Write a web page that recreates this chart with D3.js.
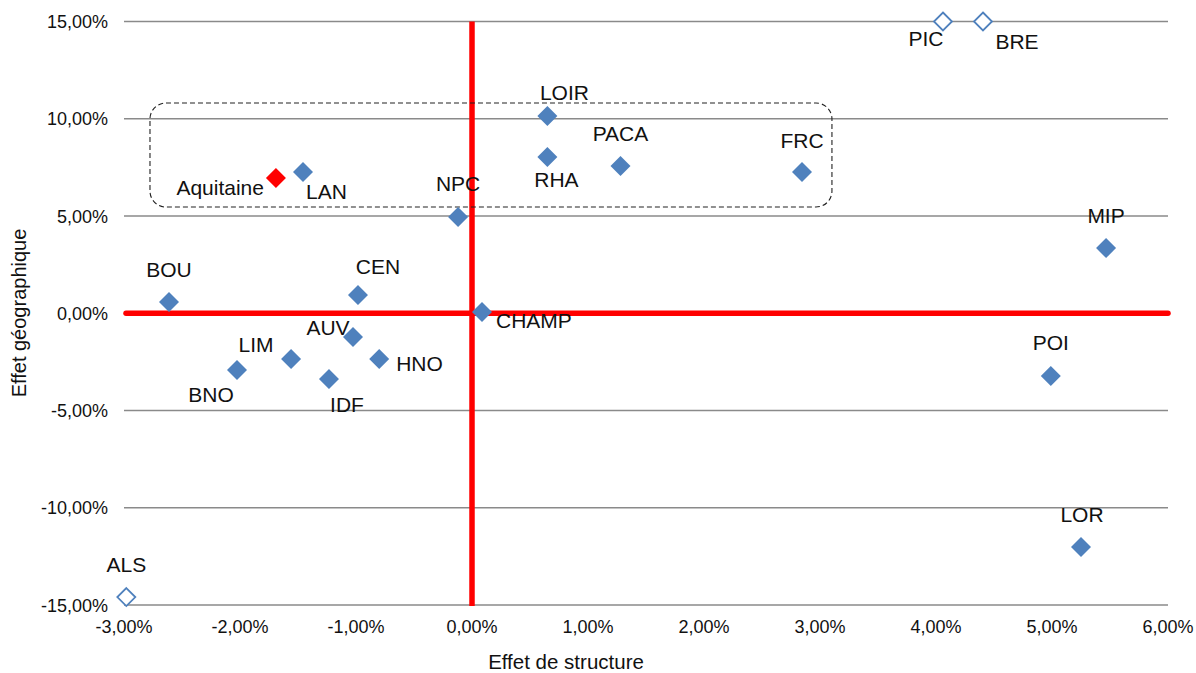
<!DOCTYPE html>
<html><head><meta charset="utf-8">
<script src="https://cdn.jsdelivr.net/npm/d3@7"></script>
<style>
html,body{margin:0;padding:0;background:#fff;}
svg{display:block;font-family:"Liberation Sans",Arial,sans-serif;}
</style></head>
<body><svg id="c" width="1196" height="673"></svg>
<script>
// ---- data ----
const regions = ["LOIR","RHA","PACA","FRC","Aquitaine","LAN","NPC","PIC","BRE","BOU","CEN","CHAMP","AUV","LIM","HNO","BNO","IDF","ALS","MIP","POI","LOR"];
const effetStructure   = [0.65, 0.65, 1.28, 2.845, -1.69, -1.457, -0.12, 4.06, 4.405, -2.612, -0.983, 0.086, -1.026, -1.56, -0.80, -2.026, -1.233, -2.98, 5.466, 4.99, 5.25];
const effetGeographique= [10.14, 8.03, 7.57, 7.26, 6.95, 7.26, 4.95, 15.0, 15.0, 0.58, 0.94, 0.06, -1.22, -2.35, -2.35, -2.92, -3.38, -14.59, 3.35, -3.23, -12.02];
const pointType = ["n","n","n","n","highlight","n","n","clipped","clipped","n","n","n","n","n","n","n","n","clipped","n","n","n"];
const xTicks = [-3,-2,-1,0,1,2,3,4,5,6];
const yTicks = [-15,-10,-5,0,5,10,15];
const groupBox = {x0:-2.776, x1:3.103, y0:5.46, y1:10.81};

// ---- layout ----
const svg = d3.select("#c");
const x = d3.scaleLinear().domain([-3,6]).range([124,1168]);
const y = d3.scaleLinear().domain([-15,15]).range([605,21.5]);
const fmt = v => v.toFixed(2).replace(".",",")+"%";

// gridlines
svg.append("g").selectAll("line").data(yTicks).join("line")
  .attr("x1",x(-3)).attr("x2",x(6))
  .attr("y1",d=>y(d)).attr("y2",d=>y(d))
  .attr("stroke","#8a8a8a").attr("stroke-width",1.6);

// y tick labels
svg.append("g").selectAll("text").data(yTicks).join("text")
  .attr("x",108).attr("y",d=>y(d)+6.5)
  .attr("text-anchor","end").attr("font-size",18).attr("fill","#111")
  .text(fmt);
// x tick labels
svg.append("g").selectAll("text").data(xTicks).join("text")
  .attr("x",d=>x(d)).attr("y",633)
  .attr("text-anchor","middle").attr("font-size",18).attr("fill","#111")
  .text(fmt);

// axis titles
svg.append("text").attr("x",566).attr("y",669).attr("text-anchor","middle")
  .attr("font-size",20.5).attr("fill","#111").text("Effet de structure");
svg.append("text").attr("transform","translate(26,313) rotate(-90)").attr("text-anchor","middle")
  .attr("font-size",20).attr("fill","#111").text("Effet géographique");

// red quadrant lines
svg.append("line").attr("x1",x(-3)+2).attr("x2",x(6)).attr("y1",y(0)).attr("y2",y(0))
  .attr("stroke","#ff0000").attr("stroke-width",5.5).attr("stroke-linecap","round");
svg.append("line").attr("x1",x(0)).attr("x2",x(0)).attr("y1",y(15)).attr("y2",y(-15)+1)
  .attr("stroke","#ff0000").attr("stroke-width",5.5);

// dashed group box
svg.append("rect")
  .attr("x",x(groupBox.x0)).attr("y",y(groupBox.y1))
  .attr("width",x(groupBox.x1)-x(groupBox.x0)).attr("height",y(groupBox.y0)-y(groupBox.y1))
  .attr("rx",16).attr("ry",16)
  .attr("fill","none").attr("stroke","#222").attr("stroke-width",1.1).attr("stroke-dasharray","5,3");

// label placements (dx, dy to baseline, anchor)
const place = {
  LOIR:[17,-16,"middle"], RHA:[9,30,"middle"], PACA:[0,-25,"middle"], FRC:[0,-24,"middle"],
  Aquitaine:[-12,17,"end"], LAN:[3,27,"start"], NPC:[0,-26,"middle"], PIC:[-17,24,"middle"],
  BRE:[34,27,"middle"], BOU:[0,-25,"middle"], CEN:[20,-21,"middle"], CHAMP:[14,16,"start"],
  AUV:[-25,-2,"middle"], LIM:[-35,-7,"middle"], HNO:[17,12,"start"], BNO:[-26,32,"middle"],
  IDF:[18,33,"middle"], ALS:[0,-25,"middle"], MIP:[0,-25,"middle"], POI:[0,-26,"middle"], LOR:[1,-25,"middle"]
};

const pts = regions.map((r,i)=>({name:r,xv:effetStructure[i],yv:effetGeographique[i],t:pointType[i]}));
const diamond = (cx,cy,r)=>`M${cx},${cy-r}L${cx+r},${cy}L${cx},${cy+r}L${cx-r},${cy}Z`;

svg.append("g").selectAll("path").data(pts).join("path")
  .attr("d",d=>diamond(x(d.xv),y(d.yv), d.t==="clipped"?9:10))
  .attr("fill",d=>d.t==="highlight"?"#ff0000":(d.t==="clipped"?"#fff":"#4f81bd"))
  .attr("stroke",d=>d.t==="clipped"?"#4f81bd":"none")
  .attr("stroke-width",1.8);

svg.append("g").selectAll("text").data(pts).join("text")
  .attr("x",d=>x(d.xv)+place[d.name][0])
  .attr("y",d=>y(d.yv)+place[d.name][1])
  .attr("text-anchor",d=>place[d.name][2])
  .attr("font-size",21).attr("fill","#111")
  .text(d=>d.name);
</script>
</body></html>
